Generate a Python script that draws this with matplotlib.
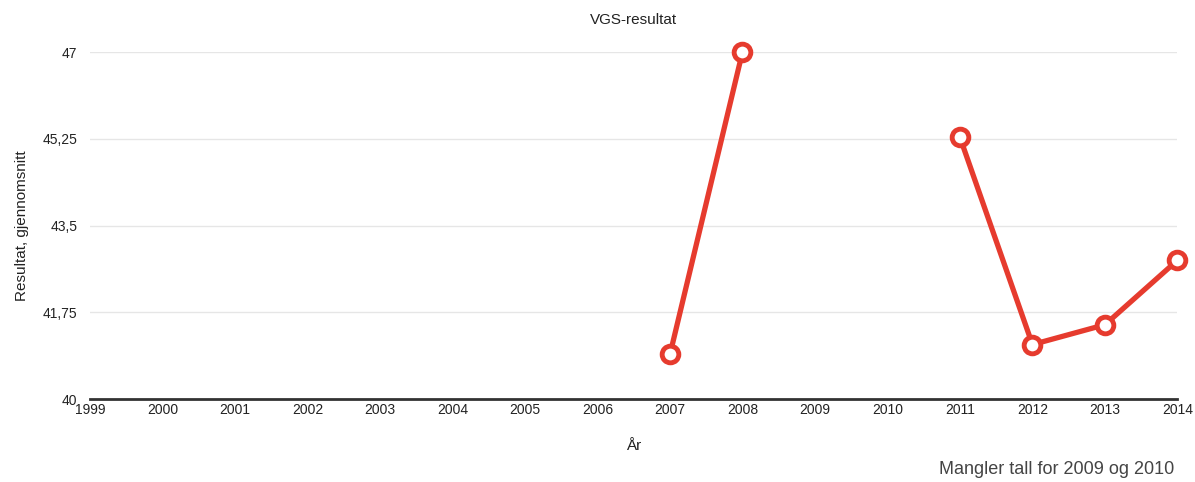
import matplotlib.pyplot as plt
import numpy as np

plt.rcParams['font.family'] = ['Liberation Sans', 'DejaVu Sans']

years = list(range(1999, 2015))
data_years = [2007, 2008, 2009, 2010, 2011, 2012, 2013, 2014]
results = [40.9, 47.0, np.nan, np.nan, 45.28, 41.1, 41.5, 42.8]
y_ticks = [40, 41.75, 43.5, 45.25, 47]
y_tick_labels = ['40', '41,75', '43,5', '45,25', '47']

red = '#e63b2e'

fig = plt.figure(figsize=(11.95, 4.82), dpi=100)
ax = fig.add_axes([0.0753, 0.172, 0.910, 0.720])

ax.plot(data_years, results, color=red, linewidth=3.8, marker='o',
        markersize=12, markerfacecolor='white', markeredgecolor=red,
        markeredgewidth=3.5, clip_on=False, zorder=3)

ax.set_xlim(1999, 2014)
ax.set_ylim(40, 47)
ax.set_xticks(years)
ax.set_xticklabels([str(y) for y in years], fontsize=10)
ax.set_yticks(y_ticks)
ax.set_yticklabels(y_tick_labels, fontsize=10)
ax.tick_params(axis='both', length=0, colors='#222222')
ax.tick_params(axis='y', pad=9)
ax.tick_params(axis='x', pad=3)

ax.grid(axis='y', color='#e6e6e6', linewidth=1)
ax.set_axisbelow(True)
for s in ['top', 'right', 'left']:
    ax.spines[s].set_visible(False)
ax.spines['bottom'].set_color('#333333')
ax.spines['bottom'].set_linewidth(2)

ax.set_title('VGS-resultat', fontsize=11, pad=20, color='#222222')
ax.set_xlabel('År', fontsize=11, labelpad=16, color='#222222')
ax.set_ylabel('Resultat, gjennomsnitt', fontsize=11, labelpad=10, color='#222222')

fig.text(0.983, 0.008, 'Mangler tall for 2009 og 2010', ha='right', va='bottom',
         fontsize=13, color='#444444')

fig.savefig('out.png', dpi=100)
